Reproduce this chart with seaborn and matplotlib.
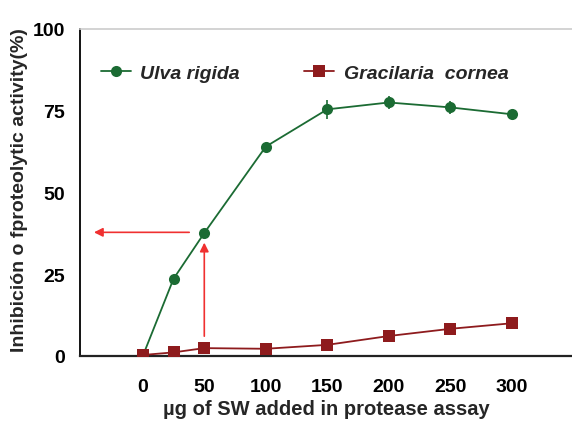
import matplotlib
matplotlib.use("Agg")
import matplotlib.pyplot as plt
import seaborn as sns
import pandas as pd

dose = [0, 25, 50, 100, 150, 200, 250, 300]
ulva = [0, 23.6, 37.6, 64.0, 75.4, 77.5, 76.0, 73.9]
ulva_err = [0, 0.8, 1.0, 1.0, 3.0, 2.0, 2.0, 1.0]
grac = [0.3, 1.1, 2.4, 2.2, 3.4, 6.1, 8.3, 10.0]
grac_err = [0.3, 0.5, 0.5, 0.5, 0.6, 0.8, 1.0, 1.5]
series_names = ["Ulva rigida", "Gracilaria  cornea"]
x_ticks = [0, 50, 100, 150, 200, 250, 300]
y_ticks = [0, 25, 50, 75, 100]

green = "#1b6b33"
red = "#8e1b1d"

sns.set_style("white")
plt.rcParams['font.family'] = ['Liberation Sans', 'DejaVu Sans']

df = pd.DataFrame({
    "dose": dose * 2,
    "val": ulva + grac,
    "series": [series_names[0]] * len(dose) + [series_names[1]] * len(dose),
})

fig = plt.figure(figsize=(5.72, 4.27), dpi=100)
ax = fig.add_axes([0.14, 0.164, 0.86, 0.766])

# errorbars
ax.errorbar(dose, ulva, yerr=ulva_err, fmt='none', ecolor=green, elinewidth=1.2, capsize=0, zorder=2)
ax.errorbar(dose, grac, yerr=grac_err, fmt='none', ecolor=red, elinewidth=1.2, capsize=0, zorder=2)

sns.lineplot(data=df, x="dose", y="val", hue="series", style="series",
             palette=[green, red], markers=["o", "s"], dashes=False,
             markersize=8, markeredgewidth=0, linewidth=1.3, ax=ax, zorder=3)

ax.set_xlim(-51, 349)
ax.set_ylim(0, 100)
ax.set_xticks(x_ticks)
ax.set_yticks(y_ticks)
ax.tick_params(axis='x', direction='inout', length=14, width=1.2, pad=9, labelsize=14, colors='black')
ax.tick_params(axis='y', direction='inout', length=12, width=1.2, pad=5, labelsize=14, colors='black')
for lab in ax.get_xticklabels() + ax.get_yticklabels():
    lab.set_fontweight('bold')

ax.spines["right"].set_visible(False)
ax.spines["top"].set_color("#cccccc")
ax.spines["top"].set_linewidth(1.2)
ax.spines["left"].set_color("black")
ax.spines["left"].set_linewidth(1.3)
ax.spines["bottom"].set_color("#222222")
ax.spines["bottom"].set_linewidth(1.6)

ax.set_xlabel("\u00b5g of SW added in protease assay", fontsize=14.5, fontweight='bold', labelpad=3)
ax.set_ylabel("Inhibición o fproteolytic activity(%)", fontsize=14, fontweight='bold')
ax.yaxis.set_label_coords(-0.105, 0.51)

# arrows
red_arrow = "#f03030"
ax.annotate("", xy=(-42, 37.8), xytext=(40, 37.8),
            arrowprops=dict(arrowstyle="-|>", color=red_arrow, lw=1.2, mutation_scale=13))
ax.annotate("", xy=(50, 35.5), xytext=(50, 5.2),
            arrowprops=dict(arrowstyle="-|>", color=red_arrow, lw=1.2, mutation_scale=13))

leg = ax.legend(loc='upper left', bbox_to_anchor=(0.006, 0.945), ncol=2, frameon=False,
                handlelength=1.55, columnspacing=3.3, handletextpad=0.5,
                prop={'style': 'italic', 'weight': 'bold', 'size': 14})

fig.savefig("out.png", dpi=100)
